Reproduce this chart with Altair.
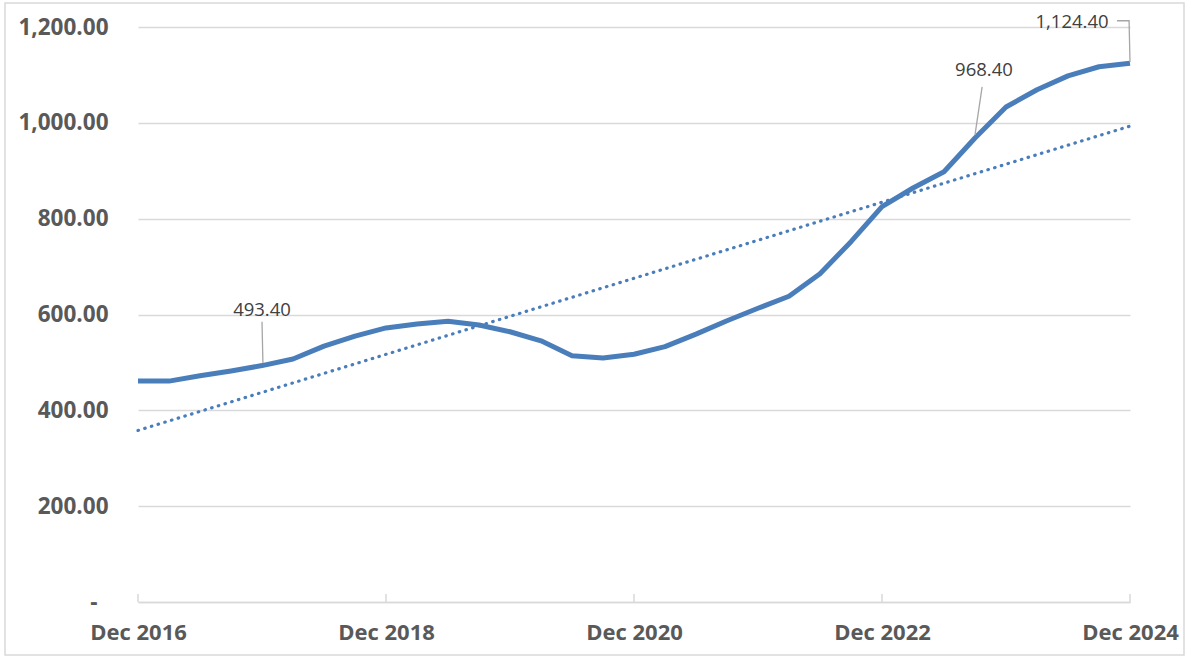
import altair as alt
import pandas as pd

# ---- data ----
quarters = []
for y in range(2016, 2025):
    for m in ["Mar", "Jun", "Sep", "Dec"]:
        if y == 2016 and m != "Dec":
            continue
        quarters.append(f"{m} {y}")

values = [461, 461, 472, 482, 493.4, 507, 534, 555, 572, 580, 586, 578, 564,
          545, 514, 509, 517, 533, 559, 587, 613, 638, 685, 752, 825, 864, 898,
          968.4, 1033, 1069, 1098, 1117, 1124.4]

tick_idx = [0, 8, 16, 24, 32]
tick_labels = [quarters[i] for i in tick_idx]
y_ticks = [0, 200, 400, 600, 800, 1000, 1200]

ann_idx = [4, 27, 32]
ann_text = ["493.40", "968.40", "1,124.40"]

# annotation layout (label placement + leader polylines) in axis units
ann_label_pos = [(4.0, 610), (27.29, 1111), (30.13, 1211)]
leaders = [
    [(4.0, 585), (4.03, 499)],
    [(27.23, 1075), (27.0, 975)],
    [(31.58, 1213), (31.97, 1213), (32.0, 1127)],
]

BLUE = "#4a7ebb"
GRID = "#d9d9d9"
W, H = 992, 575
FONT = "Open Sans"

df = pd.DataFrame({"idx": list(range(len(values))), "quarter": quarters, "value": values})

label_js = "[" + ",".join(f"'{t}'" for t in tick_labels) + "]"

xscale = alt.Scale(domain=[0, 32], nice=False, zero=False)
yscale = alt.Scale(domain=[0, 1200], nice=False)

x_axis = alt.Axis(values=tick_idx, labelExpr=f"{label_js}[datum.value/8]", grid=False,
                  ticks=False, domainColor=GRID, domainWidth=1.5, title=None,
                  labelPadding=20, labelFontSize=22, labelAlign="center",
                  labelFont=FONT, labelFontWeight="bold", labelColor="#595959")
y_axis = alt.Axis(values=y_ticks,
                  labelExpr="datum.value == 0 ? '-' : format(datum.value, ',.2f')",
                  grid=True, gridColor=GRID, gridWidth=1.5, domain=False, ticks=False,
                  title=None,
                  labelPadding={"condition": {"test": "datum.value == 0", "value": 41}, "value": 30},
                  labelFontSize=22.5,
                  labelFont=FONT, labelFontWeight="bold", labelColor="#595959")

line = alt.Chart(df).mark_line(color=BLUE, strokeWidth=5, strokeJoin="round").encode(
    x=alt.X("idx:Q", scale=xscale, axis=x_axis),
    y=alt.Y("value:Q", scale=yscale, axis=y_axis),
)

trend = alt.Chart(df).transform_regression("idx", "value", extent=[0, 32]).mark_line(
    color=BLUE, strokeWidth=3.2, strokeDash=[0.5, 6.5], strokeCap="round"
).encode(x=alt.X("idx:Q", scale=xscale), y=alt.Y("value:Q", scale=yscale))

ticks_df = pd.DataFrame({"idx": tick_idx})
xticks = alt.Chart(ticks_df).mark_rule(color=GRID, strokeWidth=1.5).encode(
    x=alt.X("idx:Q", scale=xscale), y=alt.value(H - 8), y2=alt.value(H)
)

lab_df = pd.DataFrame({"x": [p[0] for p in ann_label_pos], "y": [p[1] for p in ann_label_pos],
                       "text": ann_text})
labels = alt.Chart(lab_df).mark_text(font=FONT, fontSize=18.5, color="#404040",
                                     align="center", baseline="middle").encode(
    x=alt.X("x:Q", scale=xscale), y=alt.Y("y:Q", scale=yscale), text="text:N"
)

rows = []
for g, pts in enumerate(leaders):
    for o, (lx, ly) in enumerate(pts):
        rows.append({"g": g, "o": o, "x": lx, "y": ly})
lead_df = pd.DataFrame(rows)
leader = alt.Chart(lead_df).mark_line(color="#a6a6a6", strokeWidth=1.3).encode(
    x=alt.X("x:Q", scale=xscale), y=alt.Y("y:Q", scale=yscale), detail="g:N", order="o:Q"
)

border = alt.Chart(pd.DataFrame({"a": [0]})).mark_rect(
    fillOpacity=0, stroke=GRID, strokeWidth=1.5
).encode(x=alt.value(-133), x2=alt.value(1046), y=alt.value(-24), y2=alt.value(628))

chart = alt.layer(border, xticks, trend, line, leader, labels).properties(
    width=W, height=H,
    padding={"left": 138, "top": 27, "right": 55, "bottom": 55},
    autosize=alt.AutoSizeParams(type="none"),
    background="white",
).configure_view(stroke=None)

chart.save("out.html", embed_options={"renderer": "svg", "actions": False})
